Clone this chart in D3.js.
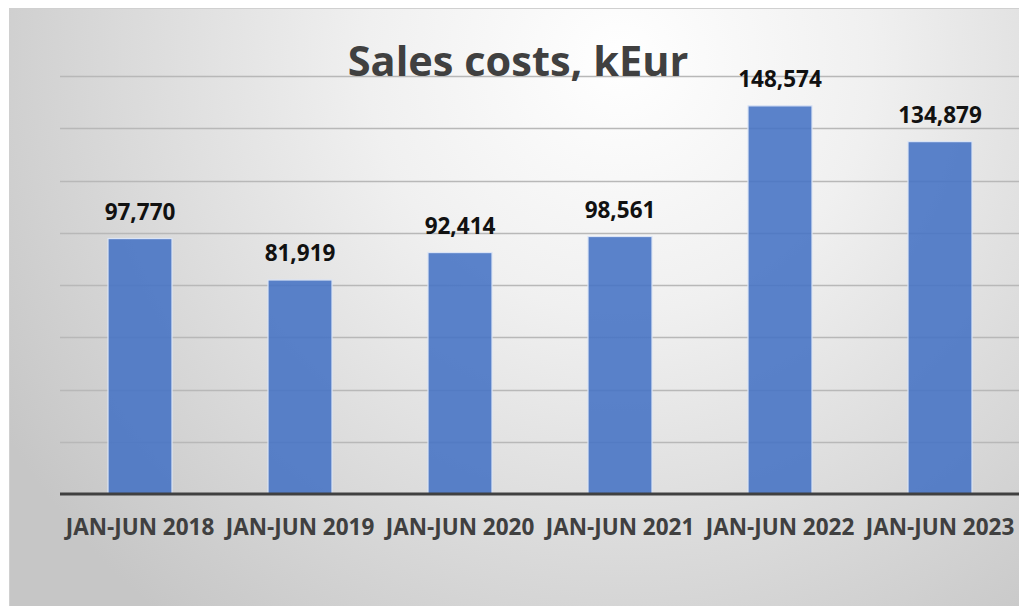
<!DOCTYPE html>
<html>
<head>
<meta charset="utf-8">
<script src="https://cdn.jsdelivr.net/npm/d3@7"></script>
<style>
html,body{margin:0;padding:0;background:#fff;}
svg{display:block;}
</style>
</head>
<body>
<svg id="chart" width="1019" height="606"></svg>
<script>
const categories = ["JAN-JUN 2018","JAN-JUN 2019","JAN-JUN 2020","JAN-JUN 2021","JAN-JUN 2022","JAN-JUN 2023"];
const values = [97770, 81919, 92414, 98561, 148574, 134879];
const gridTicks = [20000, 40000, 60000, 80000, 100000, 120000, 140000, 160000];
const titleText = "Sales costs, kEur";

const svg = d3.select("#chart");
const W = 1019, H = 606;

const defs = svg.append("defs");
const rg = defs.append("radialGradient").attr("id","bg")
  .attr("gradientUnits","userSpaceOnUse")
  .attr("cx",620).attr("cy",60).attr("r",720)
  .attr("fx",620).attr("fy",60);
rg.append("stop").attr("offset","0%").attr("stop-color","#ffffff");
rg.append("stop").attr("offset","35%").attr("stop-color","#f0f0f0");
rg.append("stop").attr("offset","100%").attr("stop-color","#c6c6c6");

svg.append("rect").attr("x",9.5).attr("y",8.5).attr("width",W-9).attr("height",H-8)
  .attr("fill","url(#bg)").attr("stroke","#d0d0d0").attr("stroke-width",1);

const x = d3.scaleBand().domain(categories).range([60,1020]).paddingInner(0.6).paddingOuter(0.3);
const y = d3.scaleLinear().domain([0,160000]).range([494,76]);

const font = "'Open Sans', 'DejaVu Sans', sans-serif";

// grid
svg.append("g").selectAll("line").data(gridTicks).join("line")
  .attr("x1",60).attr("x2",1020)
  .attr("y1",d=>Math.round(y(d))+0.5).attr("y2",d=>Math.round(y(d))+0.5)
  .attr("stroke","#b8b8b8").attr("stroke-width",1.5);

// bars
svg.append("g").selectAll("rect").data(values).join("rect")
  .attr("x",(d,i)=>x(categories[i]))
  .attr("y",d=>y(d))
  .attr("width",x.bandwidth())
  .attr("height",d=>y(0)-y(d))
  .attr("fill","#4472c4").attr("fill-opacity",0.88)
  .attr("stroke","#dbe4f5").attr("stroke-width",1.2);

// axis
const xAxis = d3.axisBottom(x).tickSize(0).tickPadding(0);
const ax = svg.append("g").attr("transform","translate(0,494)").call(xAxis);
ax.select(".domain").attr("stroke","#404040").attr("stroke-width",3).attr("d","M60,0H1020");
ax.selectAll("text").attr("dy",null).attr("y",41)
  .attr("font-family",font).attr("font-weight","bold").attr("font-size",22.5)
  .attr("fill","#404040");

// data labels
const fmt = d3.format(",");
svg.append("g").selectAll("text").data(values).join("text")
  .attr("x",(d,i)=>x(categories[i])+x.bandwidth()/2)
  .attr("y",d=>y(d)-19)
  .attr("text-anchor","middle")
  .attr("font-family",font).attr("font-weight","bold").attr("font-size",22.5)
  .attr("fill","#111")
  .text(d=>fmt(d));

// title
svg.append("text").attr("x",518).attr("y",76).attr("text-anchor","middle")
  .attr("font-family",font).attr("font-weight","bold").attr("font-size",41.5)
  .attr("fill","#404040").text(titleText);
</script>
</body>
</html>
